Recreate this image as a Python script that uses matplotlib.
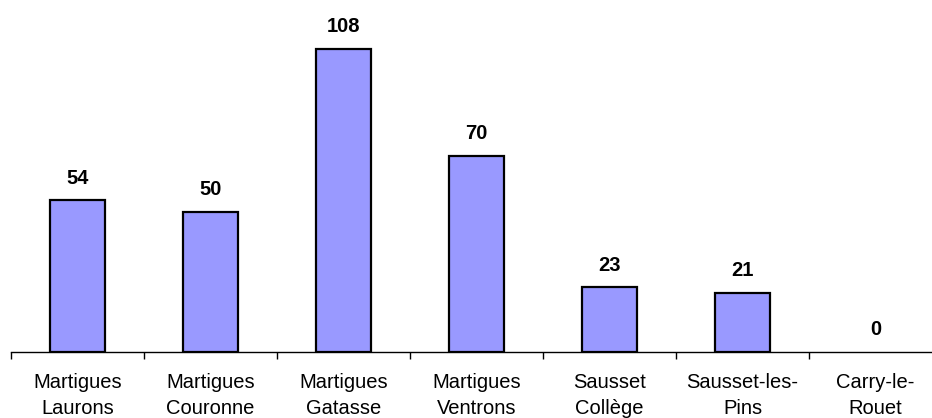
import numpy as np
import matplotlib.pyplot as plt

plt.rcParams['font.family'] = ['Liberation Sans', 'DejaVu Sans']

sites = ["Martigues\nLaurons", "Martigues\nCouronne", "Martigues\nGatasse",
         "Martigues\nVentrons", "Sausset\nCollège", "Sausset-les-\nPins",
         "Carry-le-\nRouet"]
values = [54, 50, 108, 70, 23, 21, 0]

fig = plt.figure(figsize=(9.32, 4.18), dpi=100)
ax = fig.add_axes([11/932, 66/418, 931/932, 352/418])

x = np.arange(len(sites))
# empty bars get no outline so nothing sits on the axis line
widths = [1.6 if v > 0 else 0 for v in values]
ax.bar(x, values, width=0.41, color='#9999FF', edgecolor='black', linewidth=widths)

for xi, v in zip(x, values):
    ax.annotate(str(v), (xi, v), xytext=(0, 16), textcoords='offset points',
                ha='center', va='center', fontsize=14.5, fontweight='bold')

ax.set_xlim(-0.5, len(sites) - 0.5)
ax.set_ylim(0, 125.4)

for s in ['top', 'right', 'left']:
    ax.spines[s].set_visible(False)
ax.spines['bottom'].set_linewidth(1)
ax.set_yticks([])

ax.set_xticks(x)
ax.set_xticklabels(sites, fontsize=14.5, linespacing=1.5)
ax.tick_params(axis='x', which='major', length=0, pad=15)
ax.set_xticks(np.arange(len(sites) + 1) - 0.5, minor=True)
ax.tick_params(axis='x', which='minor', length=5, width=1, direction='out')

fig.savefig('out.png', dpi=100)
